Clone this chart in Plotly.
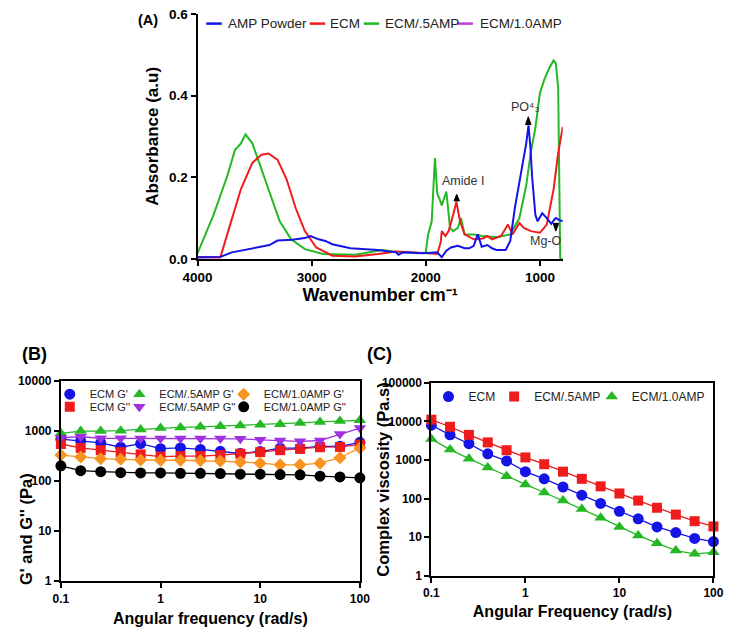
import plotly.graph_objects as go

W, H = 736, 636
FONT = "Liberation Sans, Arial, Helvetica, sans-serif"

# ---------------- Panel A : FTIR spectra ----------------
amp_wn = [4000, 3800, 3700, 3580, 3460, 3370, 3300, 3170, 3060, 3010, 2940, 2880, 2820, 2660,
          2420, 2260, 2240, 2200, 2020, 1900, 1860, 1820, 1780, 1720, 1660, 1620, 1580, 1545,
          1510, 1480, 1460, 1420, 1380, 1300, 1260, 1220, 1160, 1120, 1100, 1085, 1068, 1040,
          1020, 980, 940, 900, 870, 860, 830, 800]
amp_abs = [0.004, 0.005, 0.016, 0.022, 0.029, 0.034, 0.045, 0.047, 0.051, 0.056, 0.048, 0.044,
           0.036, 0.026, 0.022, 0.016, 0.010, 0.016, 0.014, 0.016, 0.004, 0.020, 0.028, 0.032,
           0.026, 0.026, 0.032, 0.060, 0.030, 0.032, 0.034, 0.026, 0.022, 0.022, 0.044, 0.124,
           0.219, 0.283, 0.327, 0.280, 0.200, 0.108, 0.092, 0.112, 0.100, 0.086, 0.098, 0.100,
           0.095, 0.092]

ecm_wn = [4000, 3800, 3740, 3620, 3520, 3440, 3380, 3300, 3220, 3140, 3060, 2960, 2820, 2620,
          2420, 2260, 2100, 1980, 1900, 1870, 1860, 1828, 1800, 1760, 1732, 1700, 1660, 1580,
          1500, 1460, 1420, 1340, 1280, 1240, 1180, 1140, 1080, 1000, 940, 880, 840, 800]
ecm_abs = [0.004, 0.004, 0.060, 0.171, 0.235, 0.255, 0.258, 0.243, 0.195, 0.124, 0.068, 0.028,
           0.008, 0.006, 0.012, 0.018, 0.016, 0.014, 0.012, 0.040, 0.068, 0.056, 0.068, 0.108,
           0.140, 0.092, 0.060, 0.048, 0.050, 0.056, 0.048, 0.056, 0.084, 0.060, 0.088, 0.076,
           0.068, 0.064, 0.084, 0.171, 0.259, 0.323]

amp05_wn = [4000, 3860, 3740, 3672, 3620, 3580, 3520, 3440, 3360, 3280, 3180, 3060, 2900, 2620,
            2380, 2220, 2060, 2000, 1980, 1948, 1920, 1900, 1880, 1860, 1820, 1788, 1760, 1720,
            1692, 1660, 1580, 1500, 1380, 1260, 1180, 1120, 1080, 1040, 1000, 960, 920, 880,
            860, 840, 822, 800]
amp05_abs = [0.014, 0.108, 0.203, 0.267, 0.283, 0.305, 0.283, 0.219, 0.155, 0.092, 0.048, 0.024,
             0.012, 0.010, 0.022, 0.016, 0.014, 0.016, 0.060, 0.092, 0.247, 0.160, 0.147, 0.131,
             0.165, 0.076, 0.068, 0.076, 0.100, 0.060, 0.060, 0.056, 0.053, 0.060, 0.100, 0.180,
             0.260, 0.320, 0.406, 0.440, 0.466, 0.486, 0.478, 0.418, 0.000, 0.000]

amp10_wn = [4000, 3900, 3800]
amp10_abs = [0.004, 0.004, 0.004]

# peak labels and arrow heads (wavenumber, base absorbance, tip absorbance)
peak_labels = ["Amide I", "PO\u2074\u2083", "Mg-O"]
peak_label_wn = [1678, 1127, 949]
peak_label_abs = [0.190, 0.371, 0.043]
peak_arrow_wn = [1729, 1102, 860]
peak_arrow_base = [0.142, 0.329, 0.087]
peak_arrow_tip = [0.158, 0.348, 0.068]

# ---------------- Panel B : moduli ----------------
freq = [0.1, 0.158, 0.251, 0.398, 0.631, 1.0, 1.585, 2.512, 3.981, 6.31, 10.0, 15.85,
        25.12, 39.81, 63.1, 100.0]
ecm_gp = [680, 630, 575, 470, 555, 440, 455, 425, 390, 352, 385, 450, 450, 490, 490, 590]
ecm_gpp = [545, 455, 410, 375, 338, 305, 313, 313, 328, 350, 375, 410, 435, 470, 476, 530]
amp05_gp = [891, 989, 989, 1004, 1066, 1131, 1165, 1200, 1237, 1274, 1313, 1353, 1436, 1502,
            1573, 1618]
amp05_gpp = [730, 760, 710, 710, 700, 700, 700, 700, 700, 690, 660, 640, 615, 640, 860, 1130]
amp10_gp = [328, 299, 278, 270, 262, 258, 258, 254, 250, 239, 226, 209, 209, 226, 290, 455]
amp10_gpp = [200, 160, 153, 146, 144, 144, 142, 142, 140, 136, 136, 134, 132, 124, 120, 115]

# ---------------- Panel C : complex viscosity ----------------
visc_ecm = [8000, 4500, 2650, 1450, 950, 500, 326, 200, 123, 75, 47, 30, 18.5, 13.2, 9.3, 7.7]
visc_amp05 = [11150, 7300, 4500, 2870, 1800, 1170, 780, 500, 326, 208, 136, 89, 58, 38.5,
              26, 19]
visc_amp10 = [3500, 1870, 1085, 640, 380, 234, 144, 89, 53.5, 32, 18.4, 11.1, 7.0, 4.5, 3.7,
              4.05]

BLUE = "#1414e6"
RED = "#ee1c1c"
GREEN = "#24b824"
PURPLE = "#c43cd6"
ORANGE = "#f7931e"
BLACK = "#000000"
VIOLET = "#a030e0"


def px_x(p):
    return p / W


def px_y(p):
    return 1 - p / H


fig = go.Figure()

# Panel A traces (blue on top)
fig.add_trace(go.Scatter(x=amp10_wn, y=amp10_abs, mode="lines", name="ECM/1.0AMP",
                         line=dict(color=PURPLE, width=2), showlegend=False,
                         xaxis="x", yaxis="y"))
fig.add_trace(go.Scatter(x=amp05_wn, y=amp05_abs, mode="lines", name="ECM/.5AMP",
                         line=dict(color=GREEN, width=2), showlegend=False,
                         xaxis="x", yaxis="y"))
fig.add_trace(go.Scatter(x=ecm_wn, y=ecm_abs, mode="lines", name="ECM",
                         line=dict(color=RED, width=2), showlegend=False,
                         xaxis="x", yaxis="y"))
fig.add_trace(go.Scatter(x=amp_wn, y=amp_abs, mode="lines", name="AMP Powder",
                         line=dict(color=BLUE, width=2), showlegend=False,
                         xaxis="x", yaxis="y"))

# Panel B / C: connecting lines first, then markers (markers carry the legend entries)
b_series = [
    ("ECM G'", ecm_gp, BLUE, "circle", 11, "legend"),
    ("ECM G''", ecm_gpp, RED, "square", 10, "legend2"),
    ("ECM/.5AMP G'", amp05_gp, GREEN, "triangle-up", 11, "legend3"),
    ("ECM/.5AMP G''", amp05_gpp, VIOLET, "triangle-down", 11, "legend4"),
    ("ECM/1.0AMP G'", amp10_gp, ORANGE, "diamond", 10, "legend5"),
    ("ECM/1.0AMP G''", amp10_gpp, BLACK, "circle", 11, "legend6"),
]
c_series = [
    ("ECM", visc_ecm, BLUE, "circle", 11, "legend7"),
    ("ECM/.5AMP", visc_amp05, RED, "square", 10, "legend8"),
    ("ECM/1.0AMP", visc_amp10, GREEN, "triangle-up", 11, "legend9"),
]
for series, xa, ya in ((b_series, "x2", "y2"), (c_series, "x3", "y3")):
    for name, vals, col, sym, size, leg in series:
        fig.add_trace(go.Scatter(x=freq, y=vals, mode="lines", name=name,
                                 line=dict(color=col, width=1.3), showlegend=False,
                                 hoverinfo="skip", xaxis=xa, yaxis=ya))
    for name, vals, col, sym, size, leg in series:
        fig.add_trace(go.Scatter(x=freq, y=vals, mode="markers", name=name,
                                 marker=dict(color=col, symbol=sym, size=size),
                                 cliponaxis=False, legend=leg, xaxis=xa, yaxis=ya))


def tick_bold(s):
    return dict(family=FONT, size=s, color="black", weight="bold")


common = dict(showgrid=False, zeroline=False, showline=True, linewidth=2, linecolor="black",
              ticks="outside", ticklen=5, tickwidth=2, tickcolor="black")

layout = dict(
    width=W, height=H, margin=dict(l=0, r=0, t=0, b=0),
    paper_bgcolor="white", plot_bgcolor="white",
    font=dict(family=FONT, color="#333333"),
    xaxis=dict(domain=[px_x(189), px_x(567)], range=[4000, 800], anchor="y",
               tickvals=[4000, 3000, 2000, 1000], tickfont=tick_bold(13.5),
               title=dict(text="Wavenumber cm\u207b\u00b9", font=tick_bold(18), standoff=4),
               **common),
    yaxis=dict(domain=[px_y(258), px_y(7)], range=[0, 0.6], anchor="x",
               tickvals=[0, 0.2, 0.4, 0.6], ticktext=["0.0", "0.2", "0.4", "0.6"],
               tickfont=tick_bold(13.5),
               title=dict(text="Absorbance (a.u)", font=tick_bold(17), standoff=6),
               **common),
    xaxis2=dict(domain=[px_x(47.5), px_x(357)], type="log", range=[-1, 2], anchor="y2",
                tickvals=[0.1, 1, 10, 100], ticktext=["0.1", "1", "10", "100"],
                tickfont=tick_bold(12), mirror=True,
                title=dict(text="Angular frequency (rad/s)", font=tick_bold(16), standoff=8),
                **common),
    yaxis2=dict(domain=[px_y(588), px_y(382.7)], type="log", range=[0, 4], anchor="x2",
                tickvals=[1, 10, 100, 1000, 10000],
                ticktext=["1", "10", "100", "1000", "10000"],
                tickfont=tick_bold(12), mirror=True, **common),
    xaxis3=dict(domain=[px_x(431), px_x(723)], type="log", range=[-1, 2], anchor="y3",
                tickvals=[0.1, 1, 10, 100], ticktext=["0.1", "1", "10", "100"],
                tickfont=tick_bold(12), mirror=True,
                title=dict(text="Angular Frequency (rad/s)", font=tick_bold(16), standoff=7),
                **common),
    yaxis3=dict(domain=[px_y(582.5), px_y(385)], type="log", range=[0, 5], anchor="x3",
                tickvals=[1, 10, 100, 1000, 10000, 100000],
                ticktext=["1", "10", "100", "1000", "10000", "100000"],
                tickfont=tick_bold(12), mirror=True, **common),
)

# One-item legends for panels B and C, positioned in paper space
leg_font_b = dict(family=FONT, size=11, color="#222222")
leg_font_c = dict(family=FONT, size=12, color="#222222")
b_pos = {"legend": (36, 396.5), "legend2": (36, 409.5),
         "legend3": (108, 396.5), "legend4": (108, 409.5),
         "legend5": (216, 396.5), "legend6": (216, 409.5)}
c_pos = {"legend7": (428, 399), "legend8": (496, 399), "legend9": (597, 399)}
for k, (lx, ly) in b_pos.items():
    layout[k] = dict(x=px_x(lx), y=px_y(ly), xanchor="left", yanchor="middle",
                     bgcolor="rgba(0,0,0,0)", borderwidth=0, font=leg_font_b)
for k, (lx, ly) in c_pos.items():
    layout[k] = dict(x=px_x(lx), y=px_y(ly), xanchor="left", yanchor="middle",
                     bgcolor="rgba(0,0,0,0)", borderwidth=0, font=leg_font_c)

fig.update_layout(**layout)

# Legend for panel A (short line samples, as in the reference)
a_legend = [("AMP Powder", BLUE, 198, 218), ("ECM", RED, 305, 324),
            ("ECM/.5AMP", GREEN, 361, 381), ("ECM/1.0AMP", PURPLE, 458, 479)]
ly = px_y(17)
for label, col, x0, tx in a_legend:
    fig.add_shape(type="line", xref="paper", yref="paper", x0=px_x(x0), x1=px_x(x0 + 16),
                  y0=ly, y1=ly, line=dict(color=col, width=2.5))
    fig.add_annotation(xref="paper", yref="paper", x=px_x(tx), y=ly, text=label,
                       showarrow=False, xanchor="left", yanchor="middle",
                       font=dict(family=FONT, size=13.5, color="#222222"))

# Peak labels and small triangular arrow heads in panel A
ann_font = dict(family=FONT, size=12.5, color="#333333")
for lab, lx, lyv in zip(peak_labels, peak_label_wn, peak_label_abs):
    fig.add_annotation(xref="x", yref="y", x=lx, y=lyv, text=lab, showarrow=False,
                       font=ann_font)
HALF_W = 24  # half width of arrow heads, in wavenumber units
for wn, b, t in zip(peak_arrow_wn, peak_arrow_base, peak_arrow_tip):
    fig.add_shape(type="path", xref="x", yref="y",
                  path=f"M {wn - HALF_W},{b} L {wn + HALF_W},{b} L {wn},{t} Z",
                  fillcolor="black", line=dict(color="black", width=1))

# Panel labels and free-standing axis titles
fig.add_annotation(xref="paper", yref="paper", x=px_x(125), y=px_y(13), text="(A)",
                   showarrow=False, xanchor="left", yanchor="middle",
                   font=dict(family=FONT, size=14.5, color="black", weight="bold"))
fig.add_annotation(xref="paper", yref="paper", x=px_x(5), y=px_y(355), text="(B)",
                   showarrow=False, xanchor="left", yanchor="middle",
                   font=dict(family=FONT, size=18, color="black", weight="bold"))
fig.add_annotation(xref="paper", yref="paper", x=px_x(362), y=px_y(355), text="(C)",
                   showarrow=False, xanchor="left", yanchor="middle",
                   font=dict(family=FONT, size=18, color="black", weight="bold"))
fig.add_annotation(xref="paper", yref="paper", x=px_x(12), y=px_y(535),
                   text="G' and G'' (Pa)", showarrow=False, textangle=-90,
                   xanchor="center", yanchor="middle",
                   font=dict(family=FONT, size=16.5, color="black", weight="bold"))
fig.add_annotation(xref="paper", yref="paper", x=px_x(381), y=px_y(484),
                   text="Complex viscosity (Pa.s)", showarrow=False, textangle=-90,
                   xanchor="center", yanchor="middle",
                   font=dict(family=FONT, size=16.5, color="black", weight="bold"))

fig.write_html("out.html", config={"displayModeBar": False},
               post_script="document.body.style.margin='0px';")
